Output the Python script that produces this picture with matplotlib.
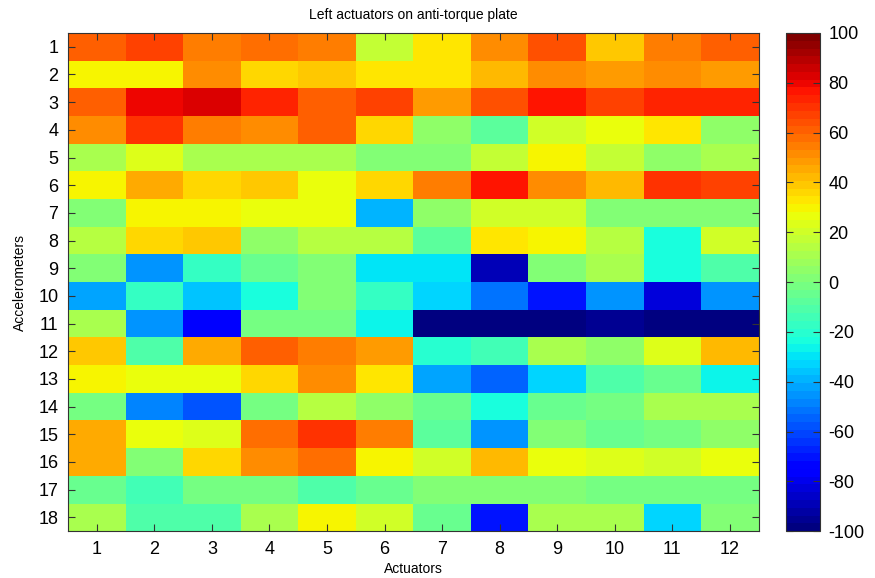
import numpy as np
import matplotlib
matplotlib.use("Agg")
import matplotlib.pyplot as plt

plt.rcParams['font.family'] = ['Liberation Sans', 'DejaVu Sans']

actuators = [str(i) for i in range(1, 13)]
accelerometers = [str(i) for i in range(1, 19)]

# Response per accelerometer (rows) and actuator (columns)
row_01 = [62, 66, 56, 59, 55, 17, 32, 53, 64, 40, 56, 60]
row_02 = [29, 29, 50, 37, 40, 32, 34, 41, 53, 47, 53, 47]
row_03 = [62, 80, 84, 72, 62, 66, 47, 64, 75, 66, 72, 72]
row_04 = [52, 69, 56, 52, 62, 36, 6, -9, 20, 25, 32, 6]
row_05 = [11, 23, 10, 12, 10, 3, 2, 16, 31, 16, 5, 10]
row_06 = [31, 44, 36, 39, 25, 37, 56, 75, 53, 41, 69, 66]
row_07 = [3, 29, 29, 25, 25, -40, 6, 20, 20, 0, 3, 3]
row_08 = [14, 36, 39, 6, 14, 14, -8, 32, 29, 14, -22, 20]
row_09 = [3, -44, -16, -6, 0, -31, -31, -89, 0, 10, -22, -12]
row_10 = [-42, -16, -36, -25, 2, -16, -34, -53, -69, -45, -84, -44]
row_11 = [11, -45, -78, -3, -1, -28, -98, -98, -97, -95, -97, -98]
row_12 = [40, -12, 45, 62, 55, 48, -20, -14, 11, 6, 22, 41]
row_13 = [31, 25, 25, 37, 52, 32, -42, -56, -34, -12, -6, -28]
row_14 = [-3, -48, -59, -1, 14, 6, -6, -25, -6, -3, 11, 10]
row_15 = [45, 25, 22, 59, 70, 56, -9, -45, 3, -6, -3, 6]
row_16 = [44, 2, 36, 52, 59, 29, 19, 41, 25, 22, 19, 25]
row_17 = [-6, -14, -3, -3, -11, -6, 2, 0, 2, -3, -3, -3]
row_18 = [11, -11, -12, 11, 29, 19, -6, -69, 11, 11, -34, 3]

values = np.array([row_01, row_02, row_03, row_04, row_05, row_06,
                   row_07, row_08, row_09, row_10, row_11, row_12,
                   row_13, row_14, row_15, row_16, row_17, row_18], dtype=float)

cbar_ticks = list(range(-100, 101, 20))

fig = plt.figure(figsize=(8.75, 5.78), dpi=100)
ax = fig.add_axes([0.0777, 0.081, 0.7893, 0.862])
cax = fig.add_axes([0.898, 0.081, 0.039, 0.862])

cmap = plt.get_cmap('jet', 64)
mesh = ax.pcolormesh(np.arange(len(actuators) + 1) + 0.5,
                     np.arange(len(accelerometers) + 1) + 0.5,
                     values, cmap=cmap, vmin=-100, vmax=100)
ax.set_xlim(0.5, len(actuators) + 0.5)
ax.set_ylim(len(accelerometers) + 0.5, 0.5)

ax.set_xticks(np.arange(1, len(actuators) + 1))
ax.set_xticklabels(actuators)
ax.set_yticks(np.arange(1, len(accelerometers) + 1))
ax.set_yticklabels(accelerometers)
ax.tick_params(direction='in', length=5, width=0.8, labelsize=13,
               top=True, right=True, color='#333333', pad=7)
for s in ax.spines.values():
    s.set_color('#333333')
    s.set_linewidth(0.8)

ax.set_title('Left actuators on anti-torque plate', fontsize=10, pad=10)
ax.set_xlabel('Actuators', fontsize=10, labelpad=3)
ax.set_ylabel('Accelerometers', fontsize=10, labelpad=8)

cb = fig.colorbar(mesh, cax=cax, ticks=cbar_ticks)
cb.outline.set_edgecolor('#333333')
cb.outline.set_linewidth(0.8)
cax.tick_params(direction='in', length=5, width=0.8, labelsize=13,
                left=True, right=True, color='#333333', pad=6)
cb.set_ticklabels([str(t) for t in cbar_ticks])

fig.savefig('out.png', dpi=100)
